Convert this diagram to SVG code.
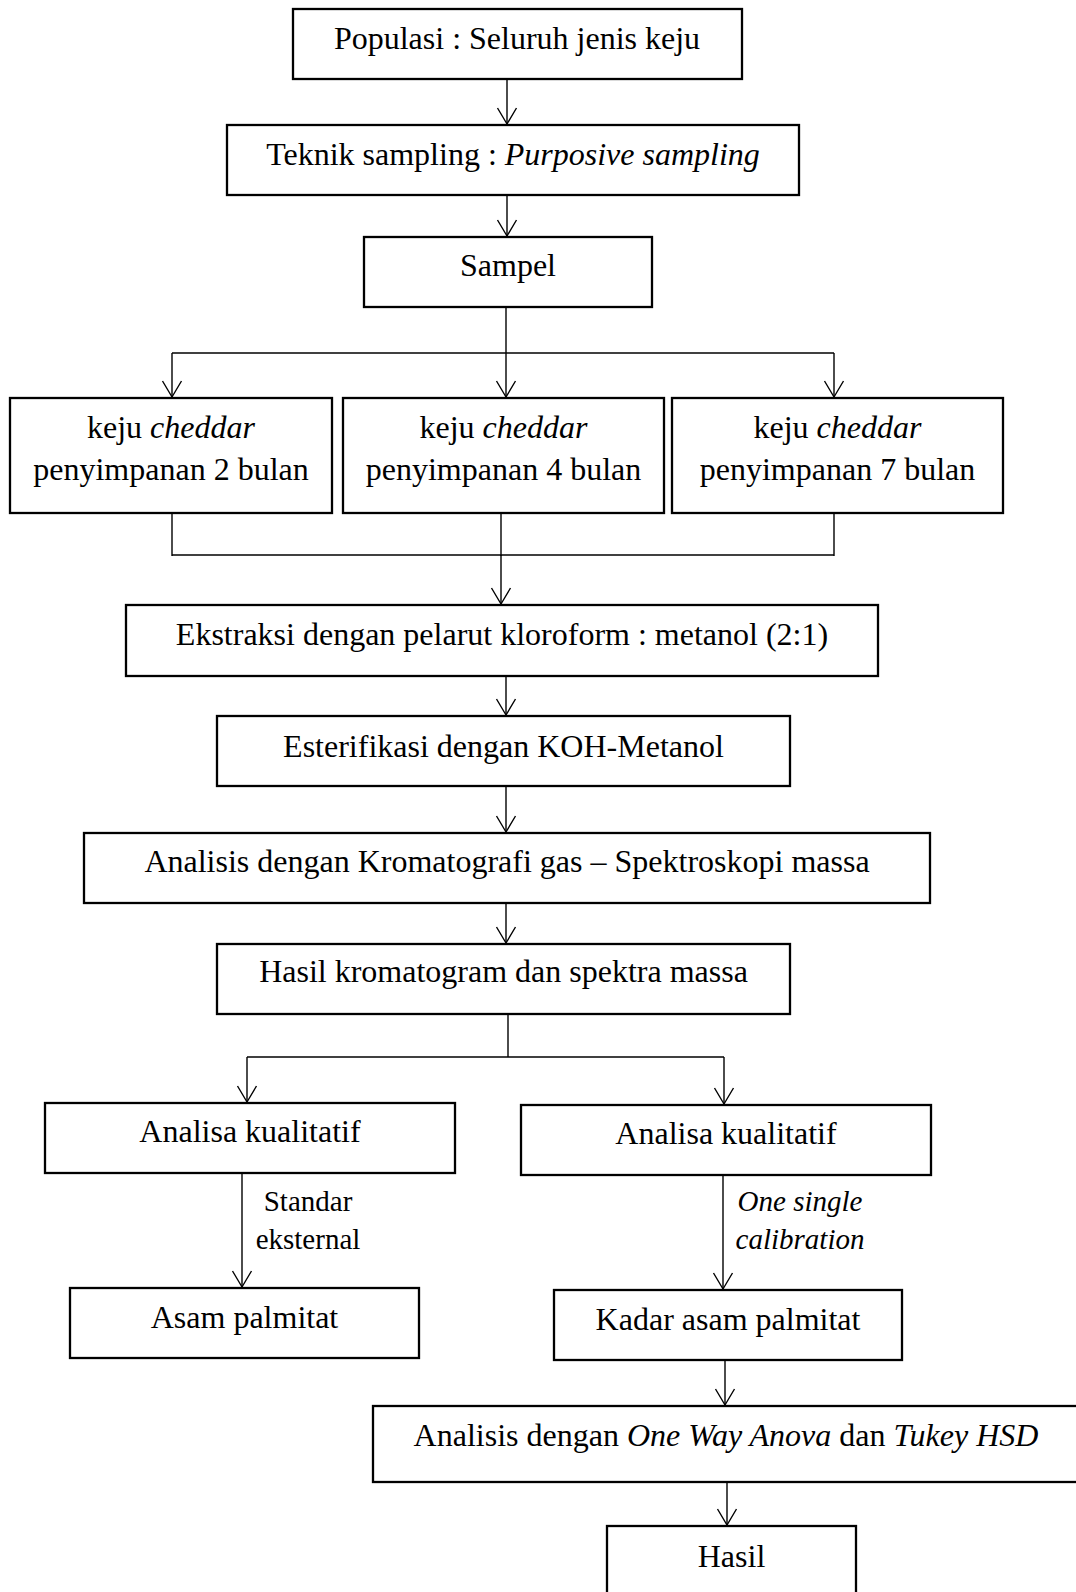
<svg xmlns="http://www.w3.org/2000/svg" width="1076" height="1592" viewBox="0 0 1076 1592">
<style>
  .box { fill: #ffffff; stroke: #000000; stroke-width: 2.3; }
  .t { font-family: "Liberation Serif", "Times New Roman", serif; font-size: 32px; fill: #000000; text-anchor: middle; }
  .lbl { font-family: "Liberation Serif", "Times New Roman", serif; font-size: 29px; fill: #000000; text-anchor: middle; }
  .it { font-style: italic; }
  .ln { fill: none; stroke: #000000; stroke-width: 1.4; }
</style>
<defs>
  <marker id="arr" markerUnits="userSpaceOnUse" markerWidth="22" markerHeight="26" viewBox="-19 -13 22 26" refX="0" refY="0" orient="auto" overflow="visible">
    <path d="M -16 -9.5 L 0 0 L -16 9.5" fill="none" stroke="#000000" stroke-width="1.4"/>
  </marker>
</defs>
<rect width="1076" height="1592" fill="#ffffff"/>

<g id="connectors">
  <line class="ln" x1="507" y1="80" x2="507" y2="124" marker-end="url(#arr)"/>
  <line class="ln" x1="507" y1="196" x2="507" y2="236" marker-end="url(#arr)"/>
  <line class="ln" x1="506" y1="307" x2="506" y2="353"/>
  <line class="ln" x1="172" y1="353" x2="834" y2="353"/>
  <line class="ln" x1="172" y1="353" x2="172" y2="397" marker-end="url(#arr)"/>
  <line class="ln" x1="506" y1="353" x2="506" y2="397" marker-end="url(#arr)"/>
  <line class="ln" x1="834" y1="353" x2="834" y2="397" marker-end="url(#arr)"/>
  <line class="ln" x1="172" y1="514" x2="172" y2="556"/>
  <line class="ln" x1="501" y1="514" x2="501" y2="556"/>
  <line class="ln" x1="834" y1="514" x2="834" y2="556"/>
  <line class="ln" x1="172" y1="555" x2="834" y2="555"/>
  <line class="ln" x1="501" y1="555" x2="501" y2="604" marker-end="url(#arr)"/>
  <line class="ln" x1="506" y1="677" x2="506" y2="715" marker-end="url(#arr)"/>
  <line class="ln" x1="506" y1="787" x2="506" y2="832" marker-end="url(#arr)"/>
  <line class="ln" x1="506" y1="904" x2="506" y2="943" marker-end="url(#arr)"/>
  <line class="ln" x1="508" y1="1015" x2="508" y2="1057"/>
  <line class="ln" x1="247" y1="1057" x2="724" y2="1057"/>
  <line class="ln" x1="247" y1="1057" x2="247" y2="1102" marker-end="url(#arr)"/>
  <line class="ln" x1="724" y1="1057" x2="724" y2="1104" marker-end="url(#arr)"/>
  <line class="ln" x1="242" y1="1174" x2="242" y2="1287" marker-end="url(#arr)"/>
  <line class="ln" x1="723" y1="1176" x2="723" y2="1289" marker-end="url(#arr)"/>
  <line class="ln" x1="725" y1="1361" x2="725" y2="1405" marker-end="url(#arr)"/>
  <line class="ln" x1="727" y1="1483" x2="727" y2="1525" marker-end="url(#arr)"/>
  <text class="lbl" x="308" y="1211">Standar</text>
  <text class="lbl" x="308" y="1249">eksternal</text>
  <text class="lbl it" x="800" y="1211">One single</text>
  <text class="lbl it" x="800" y="1249">calibration</text>
</g>

<g id="populasi">
  <rect class="box" x="293" y="9" width="449" height="70"/>
  <text class="t" x="517" y="49">Populasi : Seluruh jenis keju</text>
</g>
<g id="teknik">
  <rect class="box" x="227" y="125" width="572" height="70"/>
  <text class="t" x="513" y="165">Teknik sampling : <tspan class="it">Purposive sampling</tspan></text>
</g>
<g id="sampel">
  <rect class="box" x="364" y="237" width="288" height="70"/>
  <text class="t" x="508" y="276">Sampel</text>
</g>
<g id="keju2">
  <rect class="box" x="10" y="398" width="322" height="115"/>
  <text class="t" x="171" y="438">keju <tspan class="it">cheddar</tspan></text>
  <text class="t" x="171" y="480">penyimpanan 2 bulan</text>
</g>
<g id="keju4">
  <rect class="box" x="343" y="398" width="321" height="115"/>
  <text class="t" x="503.5" y="438">keju <tspan class="it">cheddar</tspan></text>
  <text class="t" x="503.5" y="480">penyimpanan 4 bulan</text>
</g>
<g id="keju7">
  <rect class="box" x="672" y="398" width="331" height="115"/>
  <text class="t" x="837.5" y="438">keju <tspan class="it">cheddar</tspan></text>
  <text class="t" x="837.5" y="480">penyimpanan 7 bulan</text>
</g>
<g id="ekstraksi">
  <rect class="box" x="126" y="605" width="752" height="71"/>
  <text class="t" x="502" y="645">Ekstraksi dengan pelarut kloroform : metanol (2:1)</text>
</g>
<g id="esterifikasi">
  <rect class="box" x="217" y="716" width="573" height="70"/>
  <text class="t" x="503.5" y="757">Esterifikasi dengan KOH-Metanol</text>
</g>
<g id="gcms">
  <rect class="box" x="84" y="833" width="846" height="70"/>
  <text class="t" x="507" y="872">Analisis dengan Kromatografi gas – Spektroskopi massa</text>
</g>
<g id="hasil-kromatogram">
  <rect class="box" x="217" y="944" width="573" height="70"/>
  <text class="t" x="503.5" y="982">Hasil kromatogram dan spektra massa</text>
</g>
<g id="kualitatif-kiri">
  <rect class="box" x="45" y="1103" width="410" height="70"/>
  <text class="t" x="250" y="1142">Analisa kualitatif</text>
</g>
<g id="kualitatif-kanan">
  <rect class="box" x="521" y="1105" width="410" height="70"/>
  <text class="t" x="726" y="1144">Analisa kualitatif</text>
</g>
<g id="asam-palmitat">
  <rect class="box" x="70" y="1288" width="349" height="70"/>
  <text class="t" x="244.5" y="1328">Asam palmitat</text>
</g>
<g id="kadar">
  <rect class="box" x="554" y="1290" width="348" height="70"/>
  <text class="t" x="728" y="1330">Kadar asam palmitat</text>
</g>
<g id="anova">
  <rect class="box" x="373" y="1406" width="706" height="76"/>
  <text class="t" x="726" y="1446">Analisis dengan <tspan class="it">One Way Anova</tspan> dan <tspan class="it">Tukey HSD</tspan></text>
</g>
<g id="hasil">
  <rect class="box" x="607" y="1526" width="249" height="80"/>
  <text class="t" x="731.5" y="1567">Hasil</text>
</g>
</svg>
